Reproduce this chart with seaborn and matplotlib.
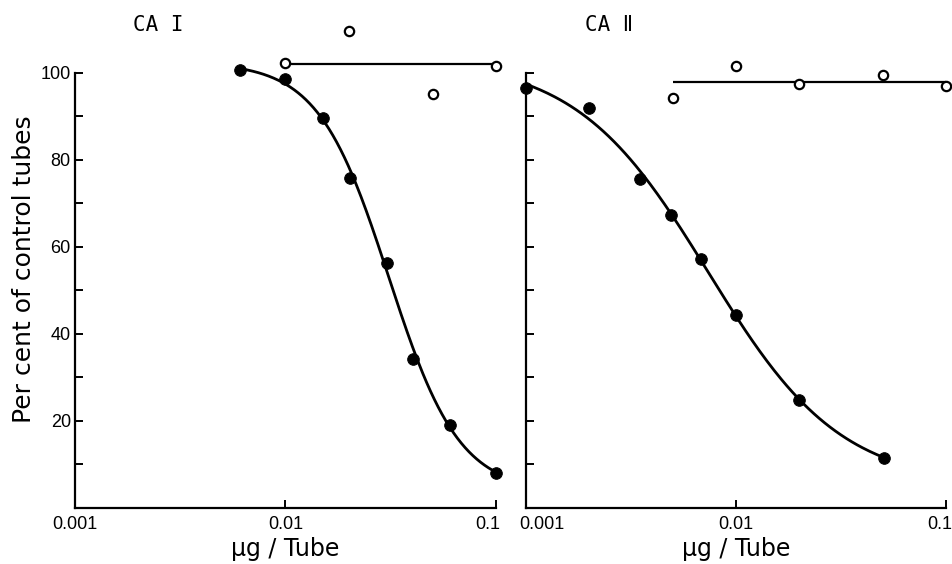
import numpy as np
import pandas as pd
import matplotlib.pyplot as plt
import matplotlib.transforms as mtransforms
import seaborn as sns
from matplotlib.ticker import FixedLocator, NullLocator

# CA I - filled (inhibition curve) and open (control) points
ca1_dose_filled = [0.0061, 0.01, 0.0151, 0.0202, 0.0305, 0.0405, 0.0605, 0.1]
ca1_pct_filled = [100.6, 98.6, 89.6, 75.9, 56.2, 34.1, 19.0, 8.0]
ca1_dose_open = [0.01, 0.02, 0.05, 0.1]
ca1_pct_open = [102.3, 109.7, 95.0, 101.5]

# CA II
ca2_dose_filled = [0.001, 0.002, 0.0035, 0.0049, 0.0068, 0.01, 0.02, 0.0507]
ca2_pct_filled = [96.5, 92.0, 75.6, 67.4, 57.2, 44.3, 24.8, 11.4]
ca2_dose_open = [0.005, 0.01, 0.02, 0.05, 0.1]
ca2_pct_open = [94.1, 101.5, 97.4, 99.5, 96.9]

x_ticks = [0.001, 0.01, 0.1]
x_tick_labels = ['0.001', '0.01', '0.1']

sns.set_style('ticks')
plt.rcParams['font.family'] = ['Liberation Sans', 'DejaVu Sans']
for k in ['text.color', 'axes.labelcolor', 'xtick.color', 'ytick.color',
          'axes.edgecolor']:
    plt.rcParams[k] = 'black'

fig = plt.figure(figsize=(9.52, 5.64), dpi=100)
bottom = (564 - 507.7) / 564
height = (507.7 - 7.5) / 564
ax1 = fig.add_axes([75 / 952, bottom, 421 / 952, height])
ax2 = fig.add_axes([526 / 952, bottom, 420 / 952, height])


def fit_curve(dose, pct):
    # 4-parameter logistic in log dose, crude grid search on top/bottom
    lx = np.log10(dose)
    best = None
    for top in np.linspace(pct.max() + 0.3, pct.max() + 15, 60):
        for bot in np.linspace(pct.min() - 30, pct.min() - 0.3, 60):
            z = np.log((top - bot) / (pct - bot) - 1)
            h, c = np.polyfit(lx, z, 1)
            pred = bot + (top - bot) / (1 + np.exp(h * lx + c))
            sse = ((pred - pct) ** 2).sum()
            if best is None or sse < best[0]:
                best = (sse, top, bot, h, c)
    _, top, bot, h, c = best
    xs = np.linspace(lx.min(), lx.max(), 200)
    ys = bot + (top - bot) / (1 + np.exp(h * xs + c))
    return pd.DataFrame({'dose': 10 ** xs, 'pct': ys})


def draw_panel(ax, df_f, df_o):
    curve = fit_curve(df_f['dose'].values, df_f['pct'].values)
    sns.lineplot(data=curve, x='dose', y='pct', ax=ax, color='black',
                 linewidth=2.0, clip_on=False)
    mean_open = df_o['pct'].mean()
    ax.hlines(mean_open, df_o['dose'].min(), df_o['dose'].max(),
              color='black', linewidth=1.6, zorder=2)
    sns.scatterplot(data=df_f, x='dose', y='pct', ax=ax, color='black',
                    s=70, edgecolor='black', zorder=4, clip_on=False)
    sns.scatterplot(data=df_o, x='dose', y='pct', ax=ax, facecolor='white',
                    edgecolor='black', linewidth=1.6, s=45, zorder=4,
                    clip_on=False)
    ax.set_xscale('log')
    ax.set_xlim(0.001, 0.1)
    ax.set_ylim(0, 115)
    ax.xaxis.set_major_locator(FixedLocator(x_ticks))
    ax.xaxis.set_minor_locator(NullLocator())
    ax.set_xticklabels(x_tick_labels)
    for s in ['top', 'right']:
        ax.spines[s].set_visible(False)
    ax.spines['left'].set_bounds(0, 100)
    ax.spines['bottom'].set_bounds(0.001, 0.1)
    for s in ['left', 'bottom']:
        ax.spines[s].set_linewidth(1.6)
    ax.tick_params(which='both', direction='in', length=6, width=1.4,
                   labelsize=13, color='black', labelcolor='black')
    ax.tick_params(axis='x', pad=6)
    ax.tick_params(axis='y', pad=3)
    ax.set_xlabel('μg / Tube', fontsize=17, labelpad=3,
                  family=['DejaVu Sans'])
    ax.set_ylabel('')


df1_f = pd.DataFrame({'dose': ca1_dose_filled, 'pct': ca1_pct_filled})
df1_o = pd.DataFrame({'dose': ca1_dose_open, 'pct': ca1_pct_open})
df2_f = pd.DataFrame({'dose': ca2_dose_filled, 'pct': ca2_pct_filled})
df2_o = pd.DataFrame({'dose': ca2_dose_open, 'pct': ca2_pct_open})

draw_panel(ax1, df1_f, df1_o)
draw_panel(ax2, df2_f, df2_o)

ax1.yaxis.set_major_locator(FixedLocator([20, 40, 60, 80, 100]))
ax1.yaxis.set_minor_locator(FixedLocator([10, 30, 50, 70, 90]))
ax1.set_ylabel('Per cent of control tubes', fontsize=18,
               family=['DejaVu Sans'])
ax1.yaxis.set_label_coords(-0.093, 0.477)

ax2.yaxis.set_major_locator(FixedLocator(list(range(10, 101, 10))))
ax2.yaxis.set_minor_locator(NullLocator())
ax2.set_yticklabels([])

# nudge the crowded x tick labels next to the panel gap / figure edge
def nudge(label, dx, ha):
    label.set_horizontalalignment(ha)
    label.set_transform(label.get_transform() +
                        mtransforms.ScaledTranslation(dx / 100, 0, fig.dpi_scale_trans))

nudge(ax1.get_xticklabels()[-1], 4, 'right')
nudge(ax2.get_xticklabels()[0], -7, 'left')
nudge(ax2.get_xticklabels()[-1], 6, 'right')

fig.text(133 / 952, 1 - 25 / 564, 'CA I', fontsize=15, va='center',
         family=['DejaVu Sans Mono', 'DejaVu Sans'])
fig.text(585 / 952, 1 - 25 / 564, 'CA Ⅱ', fontsize=15, va='center',
         family=['DejaVu Sans Mono', 'DejaVu Sans'])

fig.savefig('out.png', dpi=100)
